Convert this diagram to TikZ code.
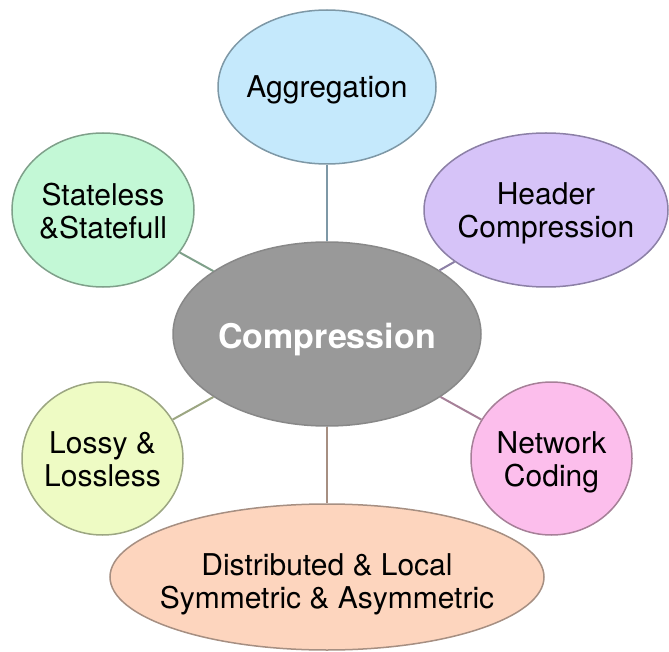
\documentclass[tikz,border=0pt]{standalone}
\usepackage{fontspec}
\setmainfont{TeX Gyre Heros}
\usepackage{tikz}
\usetikzlibrary{
    shapes.geometric
}

\definecolor{aggrfill}{HTML}{C5E9FC}
\definecolor{aggrline}{HTML}{7E98A6}
\definecolor{statefill}{HTML}{C3F8D6}
\definecolor{stateline}{HTML}{7FA08A}
\definecolor{headfill}{HTML}{D6C3F8}
\definecolor{headline}{HTML}{8C80A6}
\definecolor{compfill}{HTML}{999999}
\definecolor{compline}{HTML}{888888}
\definecolor{lossfill}{HTML}{EEFBC4}
\definecolor{lossline}{HTML}{9CA682}
\definecolor{netfill}{HTML}{FCBEEC}
\definecolor{netline}{HTML}{A68098}
\definecolor{distfill}{HTML}{FDD5BE}
\definecolor{distline}{HTML}{A68F82}

\begin{document}
\begin{tikzpicture}[x=0.5pt, y=-0.5pt,
    bubble/.style={ellipse, draw, line width=0.75pt, inner sep=0pt},
    txt/.style={align=center, font=\fontsize{15}{16.5}\selectfont},
    link/.style={line width=1pt}]

\useasboundingbox (0,0) rectangle (669,652);

% Center
\node[bubble, fill=compfill, draw=compline,
    minimum width=154pt, minimum height=92pt,
    label={[txt, text=white, yshift=-3pt,
        font=\fontsize{17}{19}\selectfont\bfseries]center:Compression}] (comp) at (327,334) {};

% Outer topics
\node[bubble, fill=aggrfill, draw=aggrline,
    minimum width=109pt, minimum height=77pt,
    label={[txt, yshift=-1.5pt]center:Aggregation}] (aggr) at (327,87) {};
\node[bubble, fill=statefill, draw=stateline,
    minimum width=91pt, minimum height=77pt,
    label={[txt, yshift=-0.5pt]center:{Stateless\\\&Statefull}}] (state) at (103,210) {};
\node[bubble, fill=headfill, draw=headline,
    minimum width=122pt, minimum height=77pt,
    label={[txt, yshift=-1.5pt]center:{Header\\Compression}}] (head) at (546,210) {};
\node[bubble, fill=lossfill, draw=lossline,
    minimum width=80.5pt, minimum height=76.5pt,
    label={[txt, yshift=-0.5pt]center:{Lossy \&\\Lossless}}] (loss) at (102.5,458.5) {};
\node[bubble, fill=netfill, draw=netline,
    minimum width=80.5pt, minimum height=76.5pt,
    label={[txt, yshift=-1.75pt]center:{Network\\Coding}}] (net) at (551.5,458.5) {};
\node[bubble, fill=distfill, draw=distline,
    minimum width=217pt, minimum height=73pt,
    label={[txt, yshift=-3.75pt]center:{Distributed \& Local\\Symmetric \& Asymmetric}}] (dist) at (327,577) {};

% Links
\draw[link, aggrline] (comp) -- (aggr);
\draw[link, stateline] (comp) -- (state);
\draw[link, headline] (comp) -- (head);
\draw[link, lossline] (comp) -- (loss);
\draw[link, netline] (comp) -- (net);
\draw[link, distline] (comp) -- (dist);

\end{tikzpicture}
\end{document}
